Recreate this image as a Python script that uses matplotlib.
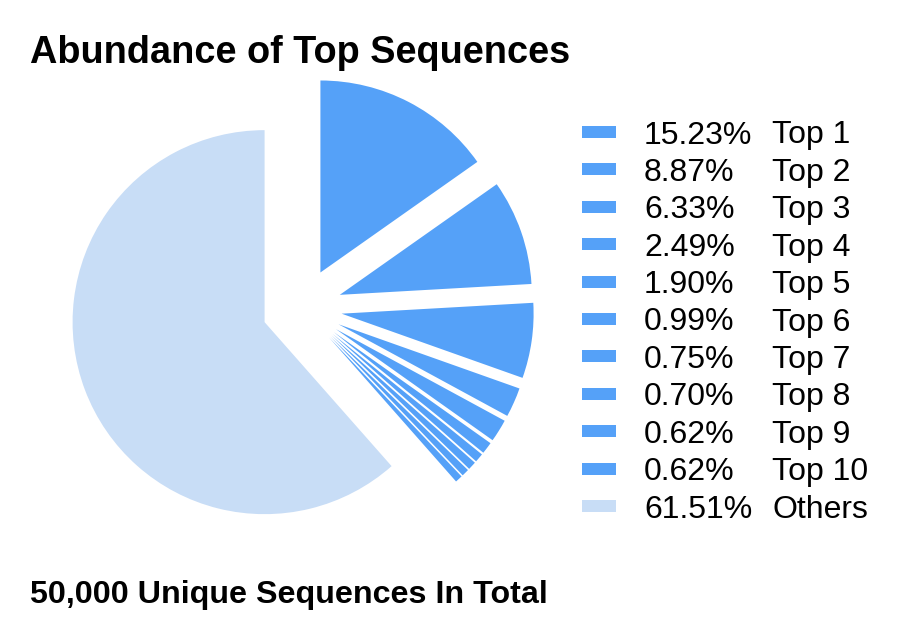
import matplotlib
matplotlib.use("Agg")
import matplotlib.pyplot as plt
from matplotlib.patches import Rectangle

plt.rcParams['font.family'] = ['Liberation Sans', 'DejaVu Sans']

labels = ["Top 1", "Top 2", "Top 3", "Top 4", "Top 5", "Top 6", "Top 7",
          "Top 8", "Top 9", "Top 10", "Others"]
percents = [15.23, 8.87, 6.33, 2.49, 1.90, 0.99, 0.75, 0.70, 0.62, 0.62, 61.51]
colors = ["#55a1f8"] * 10 + ["#c8ddf6"]

W, H = 900, 639
R = 192
explode = [40] * len(percents)

fig = plt.figure(figsize=(W / 100, H / 100), dpi=100)
ax = fig.add_axes([0, 0, 1, 1])

ax.pie(percents, colors=colors, explode=explode, startangle=90,
       counterclock=False, radius=R, center=(302, H - 308),
       wedgeprops=dict(linewidth=0))
ax.set_xlim(0, W)
ax.set_ylim(0, H)
ax.set_aspect('equal')
ax.axis('off')

fig.text(30 / W, 1 - 63 / H, "Abundance of Top Sequences", fontsize=27.3,
         fontweight='bold', ha='left', va='baseline')
fig.text(30 / W, 1 - 603 / H, "50,000 Unique Sequences In Total", fontsize=23.2,
         fontweight='bold', ha='left', va='baseline')

y0, dy = 132, 37.4
for i, (lab, p, c) in enumerate(zip(labels, percents, colors)):
    yc = y0 + i * dy
    fig.patches.append(Rectangle((582 / W, 1 - (yc + 6) / H), 34 / W, 12 / H,
                                 transform=fig.transFigure, facecolor=c,
                                 edgecolor='none'))
    fig.text(644 / W, 1 - yc / H, f"{p:.2f}%", fontsize=23, ha='left',
             va='center_baseline')
    fig.text(772 / W, 1 - yc / H, lab, fontsize=23, ha='left',
             va='center_baseline')

fig.savefig("out.png", dpi=100, facecolor='white')
